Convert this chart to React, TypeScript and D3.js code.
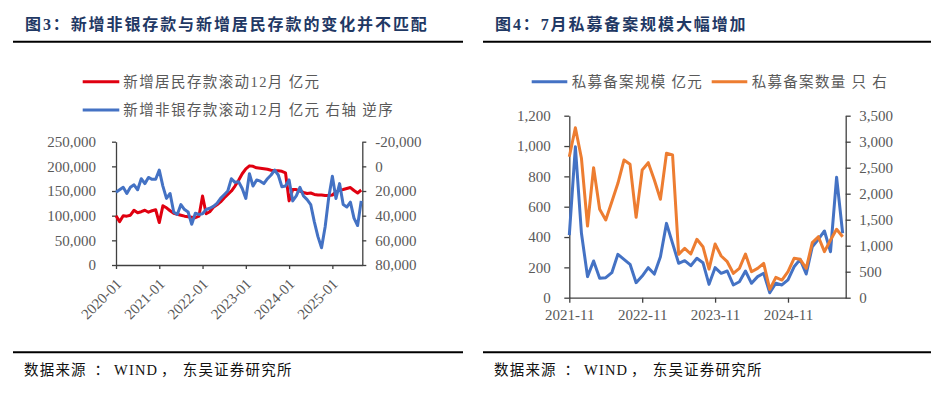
import { useEffect, useRef } from 'react'
import * as d3 from 'd3'

const W = 951
const H = 396

// 图3: monthly, 2020-01 .. 2025-09, 亿元 (rolling 12m)
const depositTickLabels = ['2020-01', '2021-01', '2022-01', '2023-01', '2024-01', '2025-01']
const householdDeposit = [
  100000, 88000, 100000, 99000, 101000, 111000, 106000, 108000, 111000, 107000, 110000, 112000,
  86000, 120000, 116000, 110000, 105000, 103000, 101000, 99000, 98000, 97000, 96000, 99000,
  140000, 104000, 108000, 117000, 122000, 128000, 136000, 143000, 150000, 160000, 172000, 185000,
  195000, 201000, 200000, 197000, 196000, 195000, 194000, 192000, 191000, 191000, 190000, 187000,
  130000, 153000, 153000, 150000, 147000, 145000, 146000, 143000, 142000, 142000, 141000, 141000,
  142000, 148000, 152000, 153000, 155000, 157000, 151000, 146000, 152000,
]
const nonBankDeposit = [
  21000, 19000, 17000, 22000, 17000, 15000, 19000, 10000, 14000, 9000, 10500, 10500,
  3000, 16000, 26000, 22000, 37000, 39000, 31000, 35000, 37000, 47000, 38000, 39000,
  38500, 35000, 34000, 32500, 30000, 26000, 23000, 20000, 10000, 13000, 12500, 18000,
  26000, 6000, 16000, 11000, 12000, 14000, 10000, 7000, 3000, 7000, 16500, 16000,
  11000, 28000, 24000, 17000, 24000, 27000, 31000, 45000, 57000, 66000, 49000, 25000,
  8000, 26000, 14000, 31000, 33000, 29000, 42000, 48000, 28000,
]
const depositLeftTicks = [0, 50000, 100000, 150000, 200000, 250000]
const depositRightTicks = [-20000, 0, 20000, 40000, 60000, 80000]

// 图4: monthly, 2021-11 .. 2025-08
const fundTickLabels = ['2021-11', '2022-11', '2023-11', '2024-11']
const fundScale = [
  413, 995, 425, 139, 242, 128, 132, 165, 286, 253, 220, 99,
  143, 198, 156, 270, 490, 358, 227, 244, 211, 260, 231, 88,
  198, 161, 176, 84, 105, 176, 95, 139, 161, 33, 95, 84,
  117, 204, 253, 156, 336, 385, 440, 303, 794, 425,
]
const fundCount = [
  2711, 3269, 2681, 1379, 2500, 1700, 1494, 1846, 2200, 2648, 2565, 1546,
  2456, 2596, 2263, 1892, 2777, 2744, 834, 950, 840, 1123, 981, 550,
  1033, 802, 692, 469, 565, 840, 500, 565, 661, 161, 392, 340,
  500, 757, 738, 565, 1058, 1173, 885, 1110, 1315, 1173,
]
const fundLeftTicks = [0, 200, 400, 600, 800, 1000, 1200]
const fundRightTicks = [0, 500, 1000, 1500, 2000, 2500, 3000, 3500]

// source line, split in pieces so the spacing of the original is kept
const sourceParts = ['数据来源', '：', 'WIND', '，', '东吴证券研究所']
const sourceOffsets = [0, 70.5, 90, 137, 158.7]
const sourceSpacing = [1.2, 0, 1.2, 0, 1.2]

const RED = '#E00010'
const BLUE = '#4472C4'
const ORANGE = '#ED7D31'
const AXIS = '#404040'
const LABEL = '#595959'
const NUM_FONT = '"Liberation Serif", "Times New Roman", serif'
const CJK_FONT = '"Liberation Serif", "Noto Sans CJK SC", sans-serif'

const fmt = (v: number) => (v < 0 ? '-' : '') + d3.format(',')(Math.abs(v))

function styleAxis(g: any) {
  g.select('.domain').attr('stroke', AXIS).attr('stroke-width', 1.3)
  g.selectAll('.tick line').attr('stroke', AXIS).attr('stroke-width', 1.3)
  g.selectAll('.tick text')
    .attr('fill', LABEL)
    .style('font-family', NUM_FONT)
    .style('font-size', '15px')
}

export default function App() {
  const svgRef = useRef<SVGSVGElement>(null)

  useEffect(() => {
    const svg = d3.select(svgRef.current)
    svg.selectAll('*').remove()

    svg.append('rect').attr('width', W).attr('height', H).attr('fill', 'white')

    // titles, rules and sources
    const frames = [
      { title: '图3：新增非银存款与新增居民存款的变化并不匹配', x0: 13, x1: 463, tx: 25, sx: 24 },
      { title: '图4：7月私募备案规模大幅增加', x0: 483, x1: 931, tx: 495, sx: 494 },
    ]
    frames.forEach(f => {
      svg.append('text')
        .attr('x', f.tx)
        .attr('y', 30)
        .text(f.title)
        .attr('fill', '#1F3864')
        .style('font-family', CJK_FONT)
        .style('font-weight', 'bold')
        .style('font-size', '16px')
        .style('letter-spacing', '1.9px')
      svg.append('line')
        .attr('x1', f.x0).attr('x2', f.x1)
        .attr('y1', 41.7).attr('y2', 41.7)
        .attr('stroke', '#000').attr('stroke-width', 2)
      svg.append('line')
        .attr('x1', f.x0).attr('x2', f.x1)
        .attr('y1', 352.3).attr('y2', 352.3)
        .attr('stroke', '#000').attr('stroke-width', 2)
      const src = svg.append('text')
        .attr('y', 375)
        .attr('fill', '#111')
        .style('font-family', CJK_FONT)
        .style('font-size', '14.5px')
      sourceParts.forEach((s, i) => {
        src.append('tspan')
          .attr('x', f.sx + sourceOffsets[i])
          .style('letter-spacing', `${sourceSpacing[i]}px`)
          .text(s)
      })
    })

    // ---- 图3 ----
    const xA = d3.scaleLinear().domain([0, 68.3]).range([116, 362.3])
    const yA = d3.scaleLinear().domain([0, 250000]).range([265, 141.7])
    const yA2 = d3.scaleLinear().domain([-20000, 80000]).range([141.7, 265])

    const gA = svg.append('g')
    gA.append('g')
      .attr('transform', 'translate(116,0)')
      .call(d3.axisLeft(yA).tickValues(depositLeftTicks).tickSize(4).tickSizeOuter(0).tickPadding(16).tickFormat(fmt as any))
      .call(styleAxis)
    gA.append('g')
      .attr('transform', 'translate(362.3,0)')
      .call(d3.axisRight(yA2).tickValues(depositRightTicks).tickSize(4).tickSizeOuter(0).tickPadding(9).tickFormat(fmt as any))
      .call(styleAxis)
    const xAxisA = gA.append('g')
      .attr('transform', 'translate(0,265)')
      .call(d3.axisBottom(xA).tickValues([0, 12, 24, 36, 48, 60]).tickSize(4).tickSizeOuter(0)
        .tickFormat((_d: any, i: number) => depositTickLabels[i]))
      .call(styleAxis)
    xAxisA.selectAll('.tick text')
      .attr('y', 0)
      .attr('dy', 0)
      .attr('text-anchor', 'end')
      .attr('transform', 'translate(6,20) rotate(-45)')

    const lineA = d3.line<number>().x((_d, i) => xA(i)).y(d => yA(d))
    const lineA2 = d3.line<number>().x((_d, i) => xA(i)).y(d => yA2(d))
    gA.append('path')
      .attr('d', lineA(householdDeposit))
      .attr('fill', 'none').attr('stroke', RED).attr('stroke-width', 3).attr('stroke-linejoin', 'round')
    gA.append('path')
      .attr('d', lineA2(nonBankDeposit))
      .attr('fill', 'none').attr('stroke', BLUE).attr('stroke-width', 3).attr('stroke-linejoin', 'round')

    // legend
    const legA = [
      { label: '新增居民存款滚动12月 亿元', color: RED, y: 81.7 },
      { label: '新增非银存款滚动12月 亿元 右轴 逆序', color: BLUE, y: 110 },
    ]
    legA.forEach(l => {
      gA.append('line')
        .attr('x1', 82.7).attr('x2', 119.3).attr('y1', l.y).attr('y2', l.y)
        .attr('stroke', l.color).attr('stroke-width', 3)
      gA.append('text')
        .attr('x', 123.3).attr('y', l.y)
        .attr('dominant-baseline', 'central')
        .text(l.label)
        .attr('fill', LABEL)
        .style('font-family', CJK_FONT)
        .style('font-size', '14.5px')
        .style('letter-spacing', '1.4px')
    })

    // ---- 图4 ----
    const xB = d3.scaleLinear().domain([0, 45.5]).range([569.3, 845.7])
    const yB = d3.scaleLinear().domain([0, 1200]).range([297.7, 115.7])
    const yB2 = d3.scaleLinear().domain([0, 3500]).range([297.7, 115.7])

    const gB = svg.append('g')
    gB.append('g')
      .attr('transform', 'translate(569.3,0)')
      .call(d3.axisLeft(yB).tickValues(fundLeftTicks).tickSize(5).tickSizeOuter(0).tickPadding(13.5).tickFormat(fmt as any))
      .call(styleAxis)
    gB.append('g')
      .attr('transform', 'translate(845.7,0)')
      .call(d3.axisRight(yB2).tickValues(fundRightTicks).tickSize(5).tickSizeOuter(0).tickPadding(8.5).tickFormat(fmt as any))
      .call(styleAxis)
    gB.append('g')
      .attr('transform', 'translate(0,297.7)')
      .call(d3.axisBottom(xB).tickValues([0, 12, 24, 36]).tickSize(5).tickSizeOuter(0).tickPadding(6.5)
        .tickFormat((_d: any, i: number) => fundTickLabels[i]))
      .call(styleAxis)

    const lineB = d3.line<number>().x((_d, i) => xB(i)).y(d => yB(d))
    const lineB2 = d3.line<number>().x((_d, i) => xB(i)).y(d => yB2(d))
    gB.append('path')
      .attr('d', lineB(fundScale))
      .attr('fill', 'none').attr('stroke', BLUE).attr('stroke-width', 3).attr('stroke-linejoin', 'round')
    gB.append('path')
      .attr('d', lineB2(fundCount))
      .attr('fill', 'none').attr('stroke', ORANGE).attr('stroke-width', 3).attr('stroke-linejoin', 'round')

    const legB = [
      { label: '私募备案规模 亿元', color: BLUE, x: 531.7 },
      { label: '私募备案数量 只 右', color: ORANGE, x: 711.7 },
    ]
    legB.forEach(l => {
      gB.append('line')
        .attr('x1', l.x).attr('x2', l.x + 35.6).attr('y1', 81.7).attr('y2', 81.7)
        .attr('stroke', l.color).attr('stroke-width', 3)
      gB.append('text')
        .attr('x', l.x + 40).attr('y', 81.7)
        .attr('dominant-baseline', 'central')
        .text(l.label)
        .attr('fill', LABEL)
        .style('font-family', CJK_FONT)
        .style('font-size', '14.5px')
        .style('letter-spacing', '1.3px')
    })
  }, [])

  return (
    <svg
      ref={svgRef}
      width={W}
      height={H}
      style={{ position: 'absolute', left: 0, top: 0, display: 'block' }}
    />
  )
}
